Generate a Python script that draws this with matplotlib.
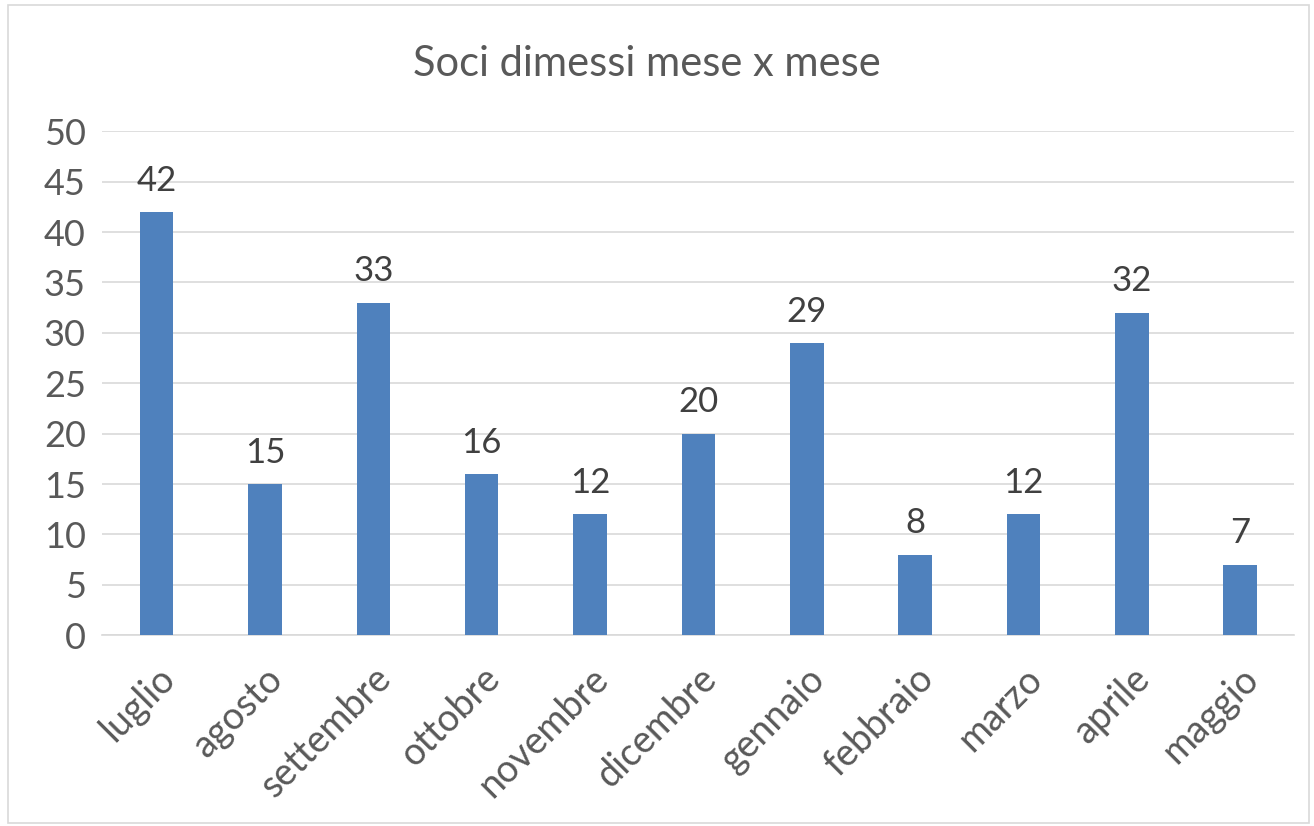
import matplotlib.pyplot as plt

months = ["luglio", "agosto", "settembre", "ottobre", "novembre", "dicembre",
          "gennaio", "febbraio", "marzo", "aprile", "maggio"]
dimessi = [42, 15, 33, 16, 12, 20, 29, 8, 12, 32, 7]
yticks = list(range(0, 55, 5))

plt.rcParams["font.family"] = ["Lato", "DejaVu Sans"]

fig = plt.figure(figsize=(13.14, 8.26), dpi=100)
ax = fig.add_axes([0.078, 0.231, 0.907, 0.610])

x = range(len(months))
bars = ax.bar(x, dimessi, width=0.31, color="#4F81BD", zorder=3)

for rect, v in zip(bars, dimessi):
    ax.annotate(str(v), (rect.get_x() + rect.get_width() / 2, v),
                xytext=(0, 11), textcoords="offset points",
                ha="center", va="bottom", fontsize=25, color="#404040")

ax.set_xlim(-0.5, len(months) - 0.5)
ax.set_ylim(0, 50)
ax.set_yticks(yticks)
ax.set_xticks(list(x))
ax.set_xticklabels(months, rotation=45, ha="right", rotation_mode="anchor")
ax.tick_params(axis="both", length=0, labelsize=25, labelcolor="#595959")
ax.tick_params(axis="x", pad=18, labelsize=27)
ax.tick_params(axis="y", pad=12, labelsize=26)

ax.grid(axis="y", color="#D9D9D9", linewidth=1.2, zorder=0)
for s in ["top", "right", "left"]:
    ax.spines[s].set_visible(False)
ax.spines["bottom"].set_color("#D9D9D9")
ax.spines["bottom"].set_linewidth(1.2)

fig.text(0.492, 0.923, "Soci dimessi mese x mese", ha="center", va="center",
         fontsize=30, color="#595959")

# chart border
fig.patches.append(plt.Rectangle((0.006, 0.004), 0.99, 0.99, transform=fig.transFigure,
                                 fill=False, edgecolor="#D9D9D9", linewidth=1.2))

fig.savefig("out.png", dpi=100)
